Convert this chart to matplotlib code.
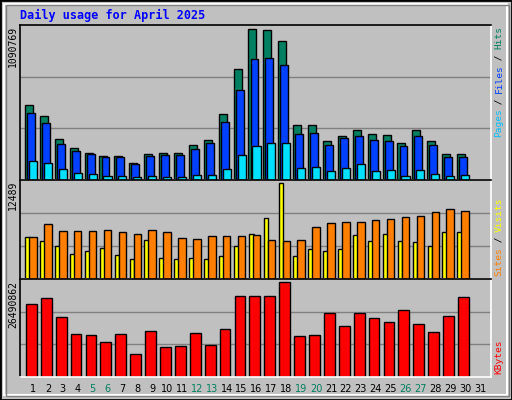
import matplotlib
matplotlib.use('Agg')
import matplotlib.pyplot as plt
from matplotlib.patches import Rectangle
import numpy as np

days = list(range(1, 32))
weekend = [5, 6, 12, 13, 19, 20, 26, 27]

hits = [543000, 461000, 299000, 232000, 195000, 173000, 173000, 121000, 188000, 195000,
        195000, 254000, 291000, 476000, 802000, 1090769, 1090000, 1009000, 395000, 402000,
        284000, 321000, 365000, 336000, 328000, 269000, 365000, 284000, 188000, 188000]
files = [484000, 410000, 262000, 210000, 188000, 165000, 165000, 114000, 173000, 180000,
         180000, 225000, 269000, 417000, 654000, 876000, 884000, 832000, 336000, 343000,
         254000, 306000, 321000, 291000, 284000, 247000, 321000, 254000, 165000, 165000]
pages = [136000, 121000, 77000, 54000, 47000, 32000, 32000, 25000, 32000, 25000,
         25000, 39000, 39000, 77000, 180000, 247000, 269000, 269000, 84000, 91000,
         62000, 84000, 114000, 62000, 69000, 32000, 69000, 47000, 32000, 39000]
hits_max = 1090769

visits = [5460, 4910, 4240, 3290, 3690, 3970, 3160, 2610, 5050, 2750,
          2610, 2750, 2610, 3020, 4240, 5860, 7890, 12489, 3020, 3830,
          3690, 3830, 5730, 4910, 5860, 4910, 4780, 4240, 6130, 6130]
sites = [5460, 7080, 6270, 6270, 6270, 6400, 6130, 5860, 6400, 6130,
         5320, 5190, 5590, 5590, 5590, 5730, 5050, 4910, 5050, 6810,
         7210, 7350, 7350, 7620, 7760, 8020, 8160, 8700, 9110, 8840]

kbytes = [20400000, 22100000, 16900000, 12000000, 11700000, 9700000, 12000000, 6500000, 12900000, 8500000,
          8800000, 12300000, 9100000, 13400000, 22700000, 22700000, 22700000, 26490862, 11400000, 11700000,
          17800000, 14300000, 17800000, 16600000, 15500000, 18700000, 14900000, 12600000, 17200000, 22400000]

GREY = '#c0c0c0'
W, H = 512, 400
fig = plt.figure(figsize=(W / 100, H / 100), dpi=100, facecolor=GREY)
mono = 'DejaVu Sans Mono'


def px_axes(x0, y0, x1, y1):
    return fig.add_axes([x0 / W, 1 - y1 / H, (x1 - x0) / W, (y1 - y0) / H])


# outer frame
fig.patches.append(Rectangle((0, 0), 1, 1, transform=fig.transFigure, fill=False,
                             edgecolor='black', lw=2))
fig.patches.append(Rectangle((4 / W, 5 / H), (W - 9) / W, (H - 9) / H, transform=fig.transFigure,
                             fill=False, edgecolor='white', lw=1.5))
fig.patches.append(Rectangle((6 / W, 4 / H), (W - 9) / W, (H - 9) / H, transform=fig.transFigure,
                             fill=False, edgecolor='#808080', lw=1))

fig.text(20 / W, 1 - 15 / H, 'Daily usage for April 2025', color='#0000ff', family=mono,
         weight='bold', fontsize=8.5, va='center', ha='left')

xl = (0.128, 31.74)
x = np.arange(1, 31)


def style(ax, top, grid):
    ax.set_facecolor(GREY)
    ax.set_xlim(*xl)
    ax.set_ylim(0, top)
    ax.set_xticks([])
    ax.set_yticks([])
    for g in grid:
        ax.axhline(g, color='#808080', lw=1, zorder=0)
    ax.spines['top'].set_color('black')
    ax.spines['left'].set_color('black')
    ax.spines['bottom'].set_color('white')
    ax.spines['right'].set_color('white')
    for s in ax.spines.values():
        s.set_linewidth(1.2)


def right_label(y_bottom, parts):
    y = y_bottom
    for txt, col in parts:
        fig.text(499 / W, 1 - y / H, txt, color=col, family=mono, fontsize=6.8,
                 rotation=90, ha='center', va='bottom')
        y -= len(txt) * 5.5


# top panel
ax1 = px_axes(20, 25, 491, 180)
top1 = hits_max * 455 / 442
style(ax1, top1, [top1 / 3, top1 * 2 / 3])
ax1.bar(x - 0.54, hits, width=0.54, align='edge', color='#008060', edgecolor='black', lw=1, zorder=2)
ax1.bar(x - 0.40, files, width=0.53, align='edge', color='#0040ff', edgecolor='black', lw=1, zorder=3)
ax1.bar(x - 0.27, pages, width=0.54, align='edge', color='#00e0ff', edgecolor='black', lw=1, zorder=4)
fig.text(13 / W, 1 - 26 / H, str(hits_max), family=mono, fontsize=7, rotation=90, ha='center', va='top')
right_label(137, [('Pages', '#00c0ff'), (' / ', 'black'), ('Files', '#0040ff'), (' / ', 'black'), ('Hits', '#008060')])

# middle panel
ax2 = px_axes(20, 180, 491, 279)
top2 = 12489 * 285 / 277
style(ax2, top2, [top2 / 3, top2 * 2 / 3])
ax2.bar(x - 0.52, visits, width=0.32, align='edge', color='#ffff00', edgecolor='black', lw=1, zorder=2)
ax2.bar(x - 0.25, sites, width=0.5, align='edge', color='#ff8000', edgecolor='black', lw=1, zorder=3)
fig.text(13 / W, 1 - 181 / H, '12489', family=mono, fontsize=7, rotation=90, ha='center', va='top')
right_label(276, [('Sites', '#ff8000'), (' / ', 'black'), ('Visits', '#ffff00')])

# bottom panel
ax3 = px_axes(20, 279, 491, 377)
top3 = 26490862 * 284 / 274
style(ax3, top3, [top3 / 3, top3 * 2 / 3])
ax3.bar(x - 0.47, kbytes, width=0.72, align='edge', color='#ff0000', edgecolor='black', lw=1, zorder=2)
fig.text(13 / W, 1 - 281 / H, '26490862', family=mono, fontsize=7, rotation=90, ha='center', va='top')
right_label(374, [('KBytes', '#ff0000')])

# day labels
for d in days:
    px = 20 + (d - xl[0]) / (xl[1] - xl[0]) * 471
    fig.text(px / W, 1 - 389 / H, str(d), fontsize=7, ha='center', va='center',
             color='#008060' if d in weekend else 'black')

fig.savefig('out.png', dpi=100, facecolor=GREY)
